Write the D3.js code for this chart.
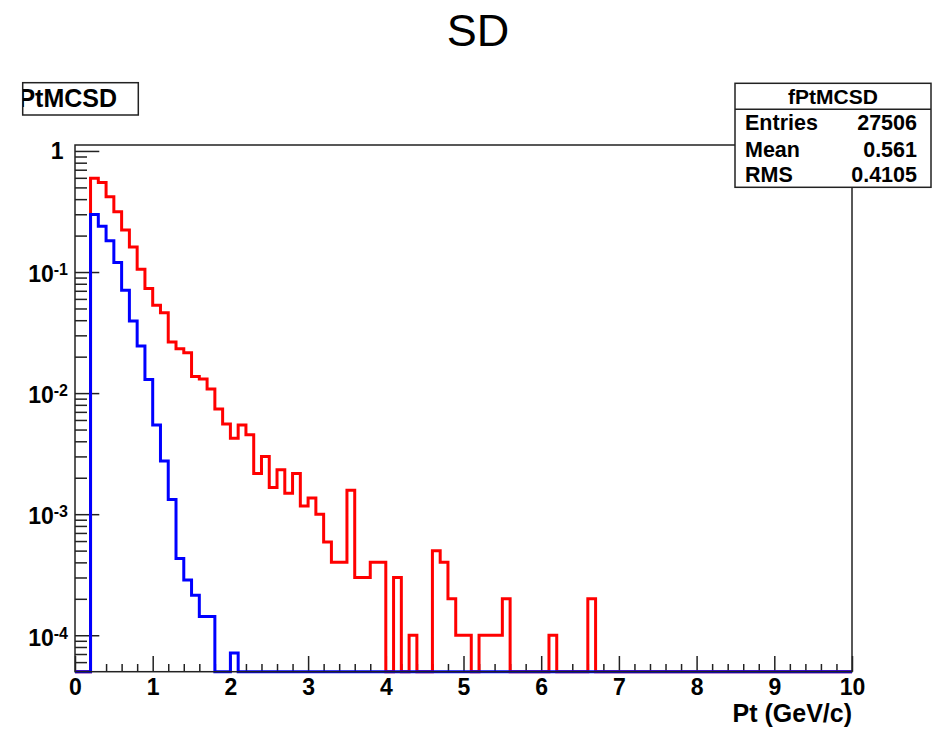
<!DOCTYPE html>
<html>
<head>
<meta charset="utf-8">
<script src="https://cdn.jsdelivr.net/npm/d3@7"></script>
<style>
  body { margin: 0; background: #fff; }
  svg { display: block; font-family: "Liberation Sans", Arial, Helvetica, sans-serif; }
</style>
</head>
<body>
<svg id="chart" width="941" height="730"></svg>
<script>
/* fPtMCSD: Pt spectrum, 100 bins of 0.1 GeV/c from 0 to 10 */
var x_min = 0, x_max = 10, bin_width = 0.1;
var y_min = 5e-5, y_max = 1.12;

// red histogram, one value per bin (bin i covers [i*0.1, (i+1)*0.1])
var red_values = [
    0, 0, 0.594, 0.55, 0.419, 0.315, 0.222, 0.161, 0.1055, 0.073,
    0.0531, 0.0462, 0.0264, 0.0232, 0.0215, 0.0137, 0.0131, 0.0108, 0.0074, 0.00557,
    0.00424, 0.00546, 0.00454, 0.00217, 0.00299, 0.00166, 0.00233, 0.00149, 0.00217, 0.00117,
    0.00136, 0.0010, 0.00059, 0.0004, 0.0004, 0.00158, 0.0003, 0.0003, 0.0004, 0.0004,
    0, 0.0003, 0, 0.0001, 0, 0, 0.0005, 0.0004, 0.0002, 0.0001,
    0.0001, 0, 0.0001, 0.0001, 0.0001, 0.0002, 0, 0, 0, 0,
    0, 0.0001, 0, 0, 0, 0, 0.0002, 0, 0, 0,
    0, 0, 0, 0, 0, 0, 0, 0, 0, 0,
    0, 0, 0, 0, 0, 0, 0, 0, 0, 0,
    0, 0, 0, 0, 0, 0, 0, 0, 0, 0
];

// blue histogram
var blue_values = [
    0, 0, 0.299, 0.239, 0.181, 0.12, 0.0707, 0.0394, 0.0245, 0.01297,
    0.00546, 0.00275, 0.00132, 0.00043, 0.000286, 0.000214, 0.000143, 0.000143, 0, 0,
    0.0000715, 0, 0, 0, 0, 0, 0, 0, 0, 0,
    0, 0, 0, 0, 0, 0, 0, 0, 0, 0,
    0, 0, 0, 0, 0, 0, 0, 0, 0, 0,
    0, 0, 0, 0, 0, 0, 0, 0, 0, 0,
    0, 0, 0, 0, 0, 0, 0, 0, 0, 0,
    0, 0, 0, 0, 0, 0, 0, 0, 0, 0,
    0, 0, 0, 0, 0, 0, 0, 0, 0, 0,
    0, 0, 0, 0, 0, 0, 0, 0, 0, 0
];

var x_major = [0, 1, 2, 3, 4, 5, 6, 7, 8, 9, 10];
var y_major = [1, 1e-1, 1e-2, 1e-3, 1e-4];
var y_labels = [['1', ''], ['10', '-1'], ['10', '-2'], ['10', '-3'], ['10', '-4']];

var title_text = 'SD';
var hist_name = 'fPtMCSD';
var stats_rows = [['Entries', '27506'], ['Mean', '0.561'], ['RMS', '0.4105']];
var x_title = 'Pt (GeV/c)';

var frame = { left: 75, right: 852, top: 145, bottom: 671.7 };
var ink = '#222';

var svg = d3.select('#chart');

var x = d3.scaleLinear()
    .domain([x_min, x_max])
    .range([frame.left, frame.right]);

var y = d3.scaleLog()
    .domain([y_min, y_max])
    .range([frame.bottom, frame.top])
    .clamp(true);

// minor ticks: every 0.2 on x, 2..9 per decade on y
var x_minor = d3.range(0, 50).map(function (i) { return i * 0.2; })
    .filter(function (v) { return Math.abs(v - Math.round(v)) > 1e-6; });
var y_minor = [];
[-5, -4, -3, -2, -1].forEach(function (e) {
    for (var k = 2; k <= 9; k++) {
        var v = k * Math.pow(10, e);
        if (v >= y_min && v <= y_max) y_minor.push(v);
    }
});

function style_axis(g) {
    g.select('.domain').remove();
    g.selectAll('line').attr('stroke', ink).attr('stroke-width', 1.5);
}

// x axis ticks point up into the frame
svg.append('g')
    .attr('transform', 'translate(0,' + frame.bottom + ')')
    .call(d3.axisBottom(x).tickValues(x_minor).tickSize(-7.7).tickFormat(''))
    .call(style_axis);

svg.append('g')
    .attr('transform', 'translate(0,' + frame.bottom + ')')
    .call(d3.axisBottom(x).tickValues(x_major).tickSize(-15.7).tickFormat(d3.format('d')))
    .call(style_axis)
    .call(function (g) {
        g.selectAll('text')
            .attr('y', 23.8)
            .attr('dy', 0)
            .attr('fill', '#000')
            .attr('font-size', 23)
            .attr('font-weight', 'bold')
            .attr('font-family', '"Liberation Sans", Arial, sans-serif');
    });

// y axis ticks point right into the frame
svg.append('g')
    .attr('transform', 'translate(' + frame.left + ',0)')
    .call(d3.axisLeft(y).tickValues(y_minor).tickSize(-12).tickFormat(''))
    .call(style_axis);

svg.append('g')
    .attr('transform', 'translate(' + frame.left + ',0)')
    .call(d3.axisLeft(y).tickValues(y_major).tickSize(-24.3).tickFormat(''))
    .call(style_axis);

var y_label = svg.append('g')
    .selectAll('text')
    .data(y_major)
    .enter()
    .append('text')
    .attr('x', function (d, i) { return i === 0 ? 63.5 : 68; })
    .attr('y', function (d, i) { return y(d) + (i === 0 ? 8.5 : 10.3); })
    .attr('text-anchor', 'end')
    .attr('font-size', 23)
    .attr('font-weight', 'bold');

y_label.append('tspan')
    .text(function (d, i) { return y_labels[i][0]; });
y_label.append('tspan')
    .attr('font-size', 16)
    .attr('dy', -7)
    .text(function (d, i) { return y_labels[i][1]; });

// histograms, zero bins sit on the bottom of the frame
function hist_points(values) {
    var pts = values.map(function (v, i) { return [x_min + i * bin_width, v]; });
    pts.push([x_max, values[values.length - 1]]);
    return pts;
}

var step_line = d3.line()
    .x(function (d) { return x(d[0]); })
    .y(function (d) { return y(Math.max(d[1], y_min)); })
    .curve(d3.curveStepAfter);

svg.append('path')
    .datum(hist_points(red_values))
    .attr('d', step_line)
    .attr('fill', 'none')
    .attr('stroke', '#ff0000')
    .attr('stroke-width', 3);

svg.append('path')
    .datum(hist_points(blue_values))
    .attr('d', step_line)
    .attr('fill', 'none')
    .attr('stroke', '#0000ff')
    .attr('stroke-width', 3);

// frame
svg.append('rect')
    .attr('x', frame.left)
    .attr('y', frame.top)
    .attr('width', frame.right - frame.left)
    .attr('height', frame.bottom - frame.top)
    .attr('fill', 'none')
    .attr('stroke', ink)
    .attr('stroke-width', 1.5);

// titles
svg.append('text')
    .attr('x', 478)
    .attr('y', 45.7)
    .attr('text-anchor', 'middle')
    .attr('font-size', 45)
    .text(title_text);

svg.append('text')
    .attr('x', frame.right)
    .attr('y', 722)
    .attr('text-anchor', 'end')
    .attr('font-size', 25)
    .attr('font-weight', 'bold')
    .text(x_title);

// histogram title box, clipped on its left side
svg.append('clipPath')
    .attr('id', 'title-clip')
    .append('rect')
    .attr('x', 23)
    .attr('y', 83)
    .attr('width', 115)
    .attr('height', 32);

svg.append('rect')
    .attr('x', 22.7)
    .attr('y', 82.7)
    .attr('width', 115.6)
    .attr('height', 32.3)
    .attr('fill', '#fff')
    .attr('stroke', ink)
    .attr('stroke-width', 1.5);

svg.append('text')
    .attr('clip-path', 'url(#title-clip)')
    .attr('x', 117)
    .attr('y', 107.3)
    .attr('text-anchor', 'end')
    .attr('font-size', 25)
    .attr('font-weight', 'bold')
    .text(hist_name);

// stats box
var stats = svg.append('g');

stats.append('rect')
    .attr('x', 735)
    .attr('y', 83.3)
    .attr('width', 196)
    .attr('height', 104)
    .attr('fill', '#fff')
    .attr('stroke', ink)
    .attr('stroke-width', 1.5);

stats.append('line')
    .attr('x1', 735).attr('x2', 931)
    .attr('y1', 109.3).attr('y2', 109.3)
    .attr('stroke', ink)
    .attr('stroke-width', 1.5);

stats.append('text')
    .attr('x', 833)
    .attr('y', 103.5)
    .attr('text-anchor', 'middle')
    .attr('font-size', 21)
    .attr('font-weight', 'bold')
    .text(hist_name);

var row_base = [130, 157, 181.7];

stats.selectAll('text.label')
    .data(stats_rows)
    .enter()
    .append('text')
    .attr('class', 'label')
    .attr('x', 745)
    .attr('y', function (d, i) { return row_base[i]; })
    .attr('font-size', 21.5)
    .attr('font-weight', 'bold')
    .text(function (d) { return d[0]; });

stats.selectAll('text.value')
    .data(stats_rows)
    .enter()
    .append('text')
    .attr('class', 'value')
    .attr('x', 917)
    .attr('y', function (d, i) { return row_base[i]; })
    .attr('text-anchor', 'end')
    .attr('font-size', 21.5)
    .attr('font-weight', 'bold')
    .text(function (d) { return d[1]; });
</script>
</body>
</html>
